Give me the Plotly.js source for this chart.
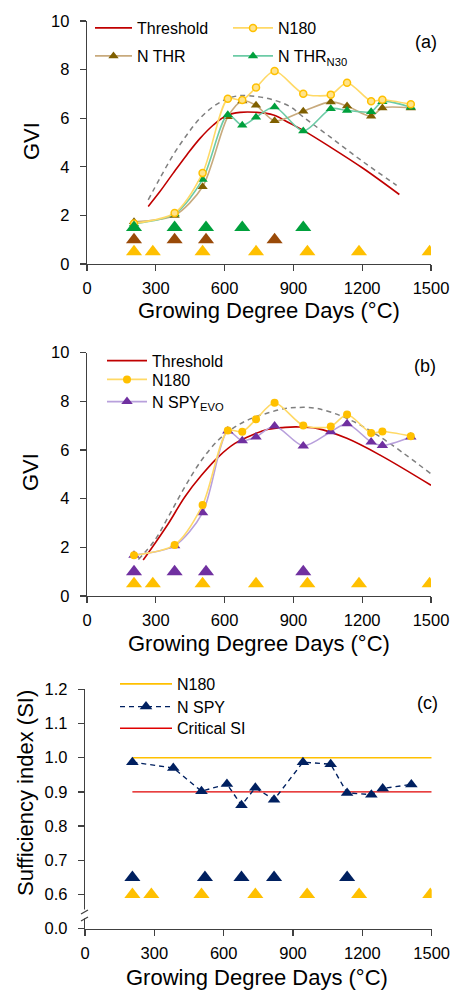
<!DOCTYPE html>
<html>
<head>
<meta charset="utf-8">
<script src="https://cdn.plot.ly/plotly-3.0.1.min.js"></script>
<style>html,body{margin:0;padding:0;background:#fff;}#chart{width:456px;height:990px;}</style>
</head>
<body>
<div id="chart"></div>
<script>
// ---------- data ----------
const gdd = [205, 382, 504, 614, 677, 737, 818, 943, 1063, 1134, 1239, 1288, 1412];
const gviN180 = [1.67, 2.10, 3.74, 6.80, 6.75, 7.26, 7.94, 7.01, 6.97, 7.46, 6.70, 6.76, 6.57];
const gviNTHR = [1.74, 2.00, 3.18, 6.06, 6.71, 6.53, 5.89, 6.29, 6.67, 6.50, 6.08, 6.42, 6.42];
const gviNTHRN30 = [1.65, 2.06, 3.48, 6.14, 5.71, 6.04, 6.46, 5.47, 6.39, 6.32, 6.27, 6.68, 6.45];
const gviNSPYEVO = [1.68, 2.07, 3.42, 6.78, 6.38, 6.54, 6.99, 6.17, 6.75, 7.08, 6.33, 6.19, 6.54];
const siNSPY = [0.987, 0.970, 0.902, 0.923, 0.861, 0.912, 0.877, 0.987, 0.981, 0.897, 0.892, 0.910, 0.922];

// threshold curves (panel a)
const thrAx = [267, 318, 376, 435, 493, 551, 609, 667, 740, 813, 885, 943, 1060, 1205, 1362];
const thrAy = [2.37, 2.98, 3.74, 4.49, 5.17, 5.72, 6.11, 6.24, 6.24, 6.13, 5.79, 5.50, 4.82, 3.93, 2.86];
const dashAx = [267, 318, 376, 435, 493, 551, 609, 667, 740, 813, 885, 943, 1060, 1205, 1350];
const dashAy = [2.64, 3.53, 4.49, 5.31, 6.00, 6.48, 6.79, 6.93, 6.89, 6.75, 6.48, 6.05, 5.23, 4.20, 3.24];
// threshold curves (panel b)
const thrBx = [245, 296, 355, 427, 500, 573, 645, 718, 791, 864, 914, 1002, 1133, 1278, 1500];
const thrBy = [1.48, 2.16, 2.98, 4.08, 4.97, 5.72, 6.27, 6.61, 6.85, 6.93, 6.95, 6.89, 6.48, 5.79, 4.55];
const dashBx = [224, 296, 355, 427, 500, 573, 645, 718, 791, 864, 914, 1002, 1133, 1278, 1500];
const dashBy = [1.50, 2.30, 3.26, 4.49, 5.59, 6.41, 6.95, 7.30, 7.53, 7.71, 7.75, 7.71, 7.30, 6.54, 5.02];

// application marker rows
const appN180 = [205, 287, 504, 737, 961, 1186, 1494];
const appNTHR = [205, 382, 519, 818];
const appNTHRN30 = [205, 382, 519, 677, 943];
const appNSPYEVO = [205, 382, 519, 943];
const appNSPY = [205, 519, 677, 818, 1134];
const rowA = {N180: 0.5, NTHR: 1.0, NTHRN30: 1.5};
const rowB = {N180: 0.5, NSPYEVO: 1.0};
const rowC = {N180: 0.6, NSPY: 0.65};

// SI reference lines
const siLineX = [205, 1500];
const siN180 = [1.0, 1.0];
const siCritical = [0.9, 0.9];

// ticks
const xTicks = [0, 300, 600, 900, 1200, 1500];
const gviTicks = [0, 2, 4, 6, 8, 10];
const siTickVals = [0.5, 0.6, 0.7, 0.8, 0.9, 1.0, 1.1, 1.2];
const siTickText = ['0.0', '0.6', '0.7', '0.8', '0.9', '1.0', '1.1', '1.2'];

// ---------- helpers ----------
const W = 456, H = 990;
const PX = p => p / W;
const PY = p => 1 - p / H;
const FONT = 'Liberation Sans, Arial, sans-serif';
const C = {
  red: '#C00000', gold: '#FFC000', goldLine: '#FFD966', goldFill: '#FFE38A',
  thrMk: '#7F5F00', thrLine: '#C8AA7D', thrRow: '#9A4A08',
  green: '#00A03C', greenLine: '#6CCBA6',
  purple: '#7030A0', purpleLine: '#B8A0DC',
  navy: '#002060', gray: '#7F7F7F', brightRed: '#E00000'
};
const rep = (v, n) => Array(n).fill(v);

function rowTrace(x, yv, color, xa, ya) {
  return {x: x, y: rep(yv, x.length), xaxis: xa, yaxis: ya, mode: 'markers', showlegend: false,
    marker: {symbol: 'triangle-up', size: 14, color: color}, hoverinfo: 'skip'};
}

const traces = [
  // ---- panel (a)
  {x: dashAx, y: dashAy, xaxis: 'x', yaxis: 'y', mode: 'lines', showlegend: false,
   line: {color: C.gray, width: 1.5, dash: '5px,4px', shape: 'spline', smoothing: 1}},
  {x: thrAx, y: thrAy, xaxis: 'x', yaxis: 'y', mode: 'lines', name: 'Threshold', legend: 'legend',
   line: {color: C.red, width: 1.6, shape: 'spline', smoothing: 1}},
  {x: gdd, y: gviNTHR, xaxis: 'x', yaxis: 'y', mode: 'lines+markers', name: 'N THR', legend: 'legend3',
   line: {color: C.thrLine, width: 1.6, shape: 'spline', smoothing: 0.8},
   marker: {symbol: 'triangle-up', size: 9, color: C.thrMk}},
  {x: gdd, y: gviNTHRN30, xaxis: 'x', yaxis: 'y', mode: 'lines+markers', name: 'N THR<sub>N30</sub>', legend: 'legend4',
   line: {color: C.greenLine, width: 1.6, shape: 'spline', smoothing: 0.8},
   marker: {symbol: 'triangle-up', size: 9, color: C.green}},
  {x: gdd, y: gviN180, xaxis: 'x', yaxis: 'y', mode: 'lines+markers', name: 'N180', legend: 'legend2',
   line: {color: C.goldLine, width: 1.6, shape: 'spline', smoothing: 0.8},
   marker: {symbol: 'circle', size: 7, color: C.goldFill, line: {color: C.gold, width: 1.5}}},
  rowTrace(appN180, rowA.N180, C.gold, 'x', 'y'),
  rowTrace(appNTHR, rowA.NTHR, C.thrRow, 'x', 'y'),
  rowTrace(appNTHRN30, rowA.NTHRN30, C.green, 'x', 'y'),

  // ---- panel (b)
  {x: dashBx, y: dashBy, xaxis: 'x2', yaxis: 'y2', mode: 'lines', showlegend: false,
   line: {color: C.gray, width: 1.5, dash: '5px,4px', shape: 'spline', smoothing: 1}},
  {x: thrBx, y: thrBy, xaxis: 'x2', yaxis: 'y2', mode: 'lines', name: 'Threshold', legend: 'legend5',
   line: {color: C.red, width: 1.6, shape: 'spline', smoothing: 1}},
  {x: gdd, y: gviNSPYEVO, xaxis: 'x2', yaxis: 'y2', mode: 'lines+markers', name: 'N SPY<sub>EVO</sub>', legend: 'legend7',
   line: {color: C.purpleLine, width: 1.6, shape: 'spline', smoothing: 0.8},
   marker: {symbol: 'triangle-up', size: 10, color: C.purple}},
  {x: gdd, y: gviN180, xaxis: 'x2', yaxis: 'y2', mode: 'lines+markers', name: 'N180', legend: 'legend6',
   line: {color: C.goldLine, width: 1.6, shape: 'spline', smoothing: 0.8},
   marker: {symbol: 'circle', size: 8, color: C.gold}},
  rowTrace(appN180, rowB.N180, C.gold, 'x2', 'y2'),
  rowTrace(appNSPYEVO, rowB.NSPYEVO, C.purple, 'x2', 'y2'),

  // ---- panel (c)
  {x: siLineX, y: siN180, xaxis: 'x3', yaxis: 'y3', mode: 'lines', name: 'N180', legend: 'legend8',
   line: {color: C.gold, width: 1.6}},
  {x: siLineX, y: siCritical, xaxis: 'x3', yaxis: 'y3', mode: 'lines', name: 'Critical SI', legend: 'legend10',
   line: {color: C.brightRed, width: 1.4}},
  {x: gdd, y: siNSPY, xaxis: 'x3', yaxis: 'y3', mode: 'lines+markers', name: 'N SPY', legend: 'legend9',
   line: {color: C.navy, width: 1.4, dash: '5px,4px'},
   marker: {symbol: 'triangle-up', size: 11, color: C.navy}},
  rowTrace(appN180, rowC.N180, C.gold, 'x3', 'y3'),
  rowTrace(appNSPY, rowC.NSPY, C.navy, 'x3', 'y3')
];

const axisLine = '#404040';
const tickFont = {family: FONT, size: 16.5, color: '#000'};
function xAx(domain, anchor) {
  return {domain: domain, anchor: anchor, range: [0, 1500], tickvals: xTicks, showline: true, linecolor: axisLine,
    linewidth: 1.3, ticks: 'outside', ticklen: 6, tickcolor: axisLine, tickwidth: 1.3, showgrid: false, zeroline: false,
    tickfont: tickFont, ticklabelstandoff: 3, fixedrange: true, automargin: false};
}
function yAx(domain, anchor, range, extra) {
  return Object.assign({domain: domain, anchor: anchor, range: range, showline: true, linecolor: axisLine,
    linewidth: 1.3, ticks: 'outside', ticklen: 6, tickcolor: axisLine, tickwidth: 1.3, showgrid: false, zeroline: false,
    tickfont: tickFont, ticklabelstandoff: 7, fixedrange: true, automargin: false}, extra);
}
function leg(xpx, ypx, iw) {
  return {x: PX(xpx), y: PY(ypx), xref: 'paper', yref: 'paper', xanchor: 'left', yanchor: 'middle',
    orientation: 'v', bgcolor: 'rgba(0,0,0,0)', borderwidth: 0, itemwidth: iw,
    font: {family: FONT, size: 16, color: '#000'}};
}
function ann(text, xpx, ypx, size, angle) {
  return {text: text, xref: 'paper', yref: 'paper', x: PX(xpx), y: PY(ypx), xanchor: 'center', yanchor: 'middle',
    showarrow: false, textangle: angle || 0, font: {family: FONT, size: size, color: '#000'}};
}

const layout = {
  width: W, height: H, margin: {l: 0, r: 0, t: 0, b: 0, autoexpand: false}, paper_bgcolor: '#fff', plot_bgcolor: '#fff',
  font: {family: FONT, color: '#000'}, showlegend: true,
  xaxis: xAx([PX(87), PX(431)], 'y'),
  yaxis: yAx([PY(264), PY(21)], 'x', [0, 10], {tickvals: gviTicks}),
  xaxis2: xAx([PX(87), PX(431)], 'y2'),
  yaxis2: yAx([PY(596), PY(352.7)], 'x2', [0, 10], {tickvals: gviTicks}),
  xaxis3: xAx([PX(85), PX(431.7)], 'y3'),
  yaxis3: yAx([PY(928.7), PY(689.3)], 'x3', [0.5, 1.2], {tickvals: siTickVals, ticktext: siTickText}),
  legend: leg(90, 28, 37),
  legend2: leg(228, 28, 40),
  legend3: leg(90, 56, 37),
  legend4: leg(228, 56, 40),
  legend5: leg(102, 360.7, 40),
  legend6: leg(102, 379.5, 40),
  legend7: leg(102, 401.7, 40),
  legend8: leg(115, 684, 52),
  legend9: leg(115, 706.7, 52),
  legend10: leg(115, 728.3, 52),
  annotations: [
    ann('(a)', 426, 42, 18), ann('(b)', 425, 366, 18), ann('(c)', 427, 703, 18),
    ann('GVI', 31, 141, 22, -90), ann('GVI', 31, 472, 22, -90), ann('Sufficiency index (SI)', 25, 793, 22, -90),
    ann('Growing Degree Days (°C)', 269, 310, 22), ann('Growing Degree Days (°C)', 259, 643, 22),
    ann('Growing Degree Days (°C)', 257, 977, 22)
  ],
  shapes: [
    {type: 'rect', xref: 'paper', yref: 'paper', x0: PX(82), x1: PX(89), y0: PY(918.5), y1: PY(909.5),
     fillcolor: '#fff', line: {width: 0}, layer: 'above'},
    {type: 'line', xref: 'paper', yref: 'paper', x0: PX(81), y0: PY(914), x1: PX(88), y1: PY(910),
     line: {color: axisLine, width: 1.2}, layer: 'above'},
    {type: 'line', xref: 'paper', yref: 'paper', x0: PX(81), y0: PY(921), x1: PX(88), y1: PY(917),
     line: {color: axisLine, width: 1.2}, layer: 'above'}
  ]
};

Plotly.newPlot('chart', traces, layout, {staticPlot: true, displayModeBar: false});
</script>
</body>
</html>
